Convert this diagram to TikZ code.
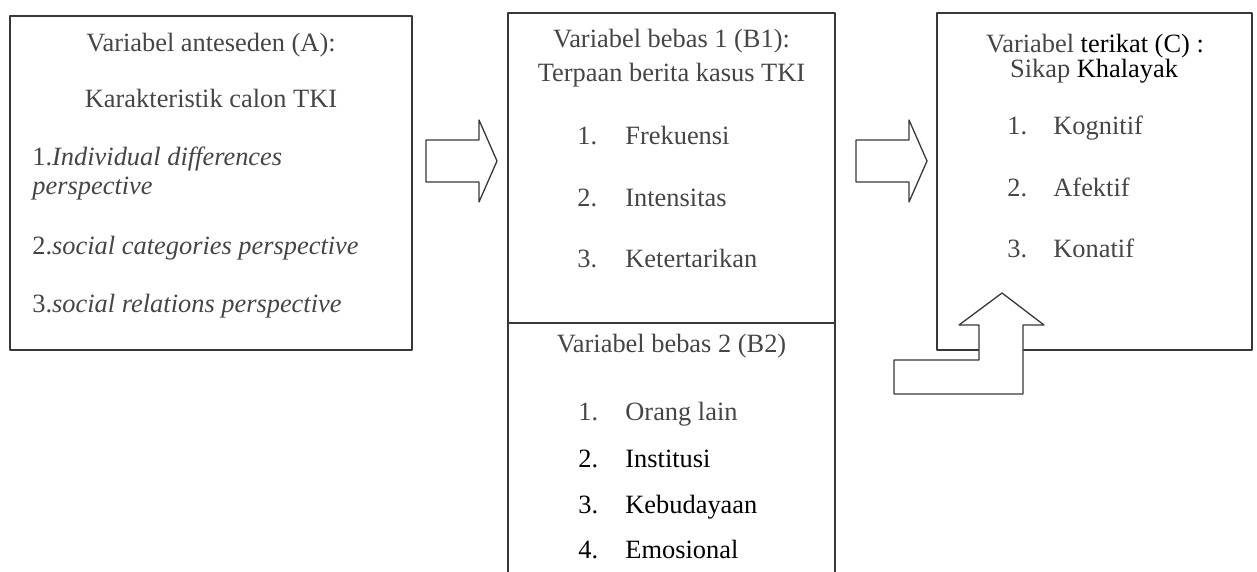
\documentclass[tikz,border=0pt]{standalone}
\usepackage{fontspec}
\setmainfont{Liberation Serif}
\usetikzlibrary{positioning}
\definecolor{txtgray}{gray}{0.27}
\definecolor{linegray}{gray}{0.22}

\begin{document}
\begin{tikzpicture}[x=0.5pt, y=-0.5pt, line cap=round, line join=round,
    box/.style={draw=linegray, line width=0.65pt, inner sep=0pt},
    txt/.style={anchor=base, inner sep=0pt,
                font=\fontsize{13.2}{16}\selectfont, text=txtgray},
    item/.style={txt, anchor=base west},
    blk/.style={draw=linegray, line width=0.65pt, fill=white}]

  \clip (0,0) rectangle (1257,572);

  % ── Variabel anteseden (A) ───────────────────────────────────────────────

  \node[box, minimum width=201pt, minimum height=167pt] (boxA) at (211,183) {};
  \node[txt] (hdA) at (211,52) {Variabel anteseden (A):};
  \node[txt] (subA) at (211,108) {Karakteristik calon TKI};
  \node[item] (itA1) at (32,166) {1.\textit{Individual differences}};
  \node[item] (itA1b) at (32,195) {\textit{perspective}};
  \node[item] (itA2) at (32,255) {2.\textit{social categories perspective}};
  \node[item] (itA3) at (32,312) {3.\textit{social relations perspective}};

  % ── Variabel bebas 1 (B1) ────────────────────────────────────────────────

  \node[box, minimum width=163.5pt, minimum height=155pt] (boxB1) at (671.5,168) {};
  \node[txt] (hdB1) at (671.5,48) {Variabel bebas 1 (B1):};
  \node[txt] (subB1) at (671.5,82) {Terpaan berita kasus TKI};
  \node[item] (nB11) at (577,145) {1.};
  \node[item] (itB11) at (625,145) {Frekuensi};
  \node[item] (nB12) at (577,206) {2.};
  \node[item] (itB12) at (625,206) {Intensitas};
  \node[item] (nB13) at (577,267) {3.};
  \node[item] (itB13) at (625,267) {Ketertarikan};

  % ── Variabel bebas 2 (B2) ────────────────────────────────────────────────

  \node[box, minimum width=163.5pt, minimum height=140pt] (boxB2) at (671.5,463) {};
  \node[txt] (hdB2) at (671.5,352) {Variabel bebas 2 (B2)};
  \node[item] (nB21) at (578,420) {1.};
  \node[item] (itB21) at (625,420) {Orang lain};
  \node[item, text=black] (nB22) at (578,467) {2.};
  \node[item, text=black] (itB22) at (625,467) {Institusi};
  \node[item, text=black] (nB23) at (578,513) {3.};
  \node[item, text=black] (itB23) at (625,513) {Kebudayaan};
  \node[item, text=black] (nB24) at (578,558) {4.};
  \node[item, text=black] (itB24) at (625,558) {Emosional};

  % ── Variabel terikat (C) ─────────────────────────────────────────────────

  \node[box, minimum width=157.5pt, minimum height=168.5pt] (boxC) at (1094.5,181.5) {};
  \node[txt] (hdC) at (1095,53) {Variabel \textcolor{black}{terikat (C) :}};
  \node[txt] (subC) at (1094,78) {Sikap \textcolor{black}{Khalayak}};
  \node[item] (nC1) at (1007,135) {1.};
  \node[item] (itC1) at (1053,135) {Kognitif};
  \node[item] (nC2) at (1007,197) {2.};
  \node[item] (itC2) at (1053,197) {Afektif};
  \node[item] (nC3) at (1007,257) {3.};
  \node[item] (itC3) at (1053,257) {Konatif};

  % block arrows
  \draw[blk] (426,140) -- (479,140) -- (479,120) -- (497,161)
    -- (479,202) -- (479,182) -- (426,182) -- cycle;
  \draw[blk] (856,140) -- (909,140) -- (909,120) -- (927,161)
    -- (909,202) -- (909,182) -- (856,182) -- cycle;
  \draw[blk] (894,360) -- (979,360) -- (979,325) -- (959,325) -- (1002,293)
    -- (1044,325) -- (1023,325) -- (1023,394) -- (894,394) -- cycle;

\end{tikzpicture}
\end{document}
